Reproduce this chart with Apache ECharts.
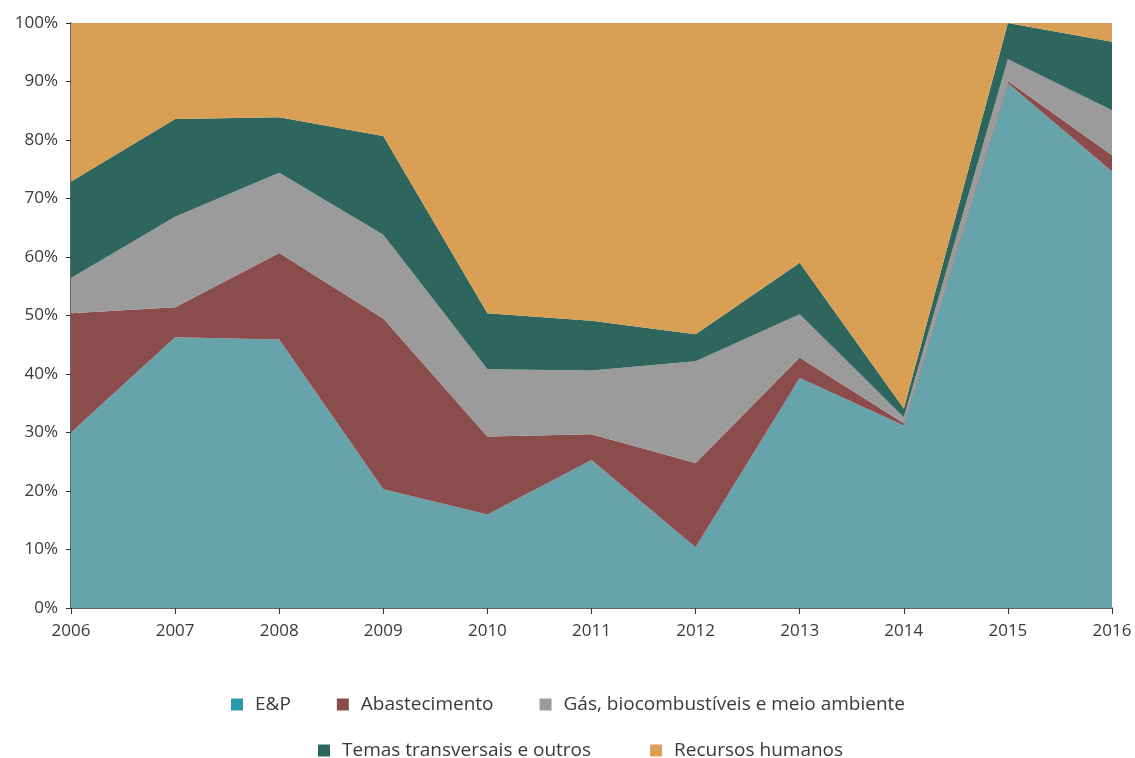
<!DOCTYPE html>
<html>
<head>
<meta charset="utf-8">
<script src="https://cdn.jsdelivr.net/npm/echarts@6/dist/echarts.min.js"></script>
<style>
  html, body { margin: 0; padding: 0; background: #fff; }
  #chart { width: 1135px; height: 758px; }
</style>
</head>
<body>
<div id="chart"></div>
<script>
// anos
const years = ['2006', '2007', '2008', '2009', '2010', '2011', '2012', '2013', '2014', '2015', '2016'];

// participação (%) de cada área
const ep = [30.0, 46.3, 45.9, 20.3, 16.0, 25.3, 10.4, 39.3, 31.2, 89.7, 74.6];
const abastecimento = [20.4, 5.1, 14.8, 29.2, 13.3, 4.4, 14.4, 3.5, 0.4, 0.4, 2.8];
const gas = [6.0, 15.5, 13.7, 14.3, 11.5, 10.9, 17.4, 7.4, 1.0, 3.7, 7.7];
const temas = [16.5, 16.7, 9.5, 16.9, 9.6, 8.5, 4.6, 8.8, 1.5, 6.2, 11.7];
const recursos = [27.1, 16.4, 16.1, 19.3, 49.6, 50.9, 53.2, 41.0, 65.9, 0.0, 3.2];

const yTicks = [0, 10, 20, 30, 40, 50, 60, 70, 80, 90, 100];

const names = ['E&P', 'Abastecimento', 'Gás, biocombustíveis e meio ambiente',
  'Temas transversais e outros', 'Recursos humanos'];
const colors = ['#66a3aa', '#8b4c4c', '#9b9b9b', '#2e665e', '#d9a055'];
const values = [ep, abastecimento, gas, temas, recursos];

const chart = echarts.init(document.getElementById('chart'));

const fontFamily = '"Open Sans", sans-serif';
const legendText = { color: '#3a3a3a', fontSize: 19, fontFamily: fontFamily, padding: [0, 0, 0, 7] };

const option = {
  animation: false,
  grid: { left: 71, right: 23, top: 23, bottom: 150 },
  legend: [
    {
      left: 231, top: 695, padding: 0,
      itemWidth: 12, itemHeight: 12, itemGap: 46,
      icon: 'rect',
      textStyle: legendText,
      data: [
        { name: names[0], itemStyle: { color: '#2b98b0' } },
        names[1], names[2]
      ]
    },
    {
      left: 318, top: 741, padding: 0,
      itemWidth: 12, itemHeight: 12, itemGap: 59,
      icon: 'rect',
      textStyle: legendText,
      data: [names[3], names[4]]
    }
  ],
  xAxis: {
    type: 'category',
    data: years,
    boundaryGap: false,
    axisLine: { lineStyle: { color: '#333', width: 1.5 } },
    axisTick: { alignWithLabel: true, length: 6, lineStyle: { color: '#333' } },
    axisLabel: { color: '#3a3a3a', fontSize: 17, fontFamily: fontFamily, margin: 15 },
    splitLine: { show: false }
  },
  yAxis: {
    type: 'value',
    min: 0,
    max: 100,
    interval: 10,
    axisLine: { show: true, lineStyle: { color: '#333', width: 1.5 } },
    axisTick: { show: true, length: 5, lineStyle: { color: '#333' } },
    axisLabel: {
      color: '#3a3a3a', fontSize: 17, fontFamily: fontFamily, margin: 13,
      formatter: function (v) { return yTicks.indexOf(v) >= 0 ? v + '%' : ''; }
    },
    splitLine: { show: false }
  },
  series: values.map(function (arr, i) {
    return {
      name: names[i],
      type: 'line',
      stack: 'total',
      data: arr,
      symbol: 'none',
      lineStyle: { width: 0 },
      itemStyle: { color: colors[i] },
      areaStyle: { color: colors[i], opacity: 1 },
      z: 2
    };
  })
};

chart.setOption(option);
window.addEventListener('resize', () => chart.resize());
</script>
</body>
</html>
